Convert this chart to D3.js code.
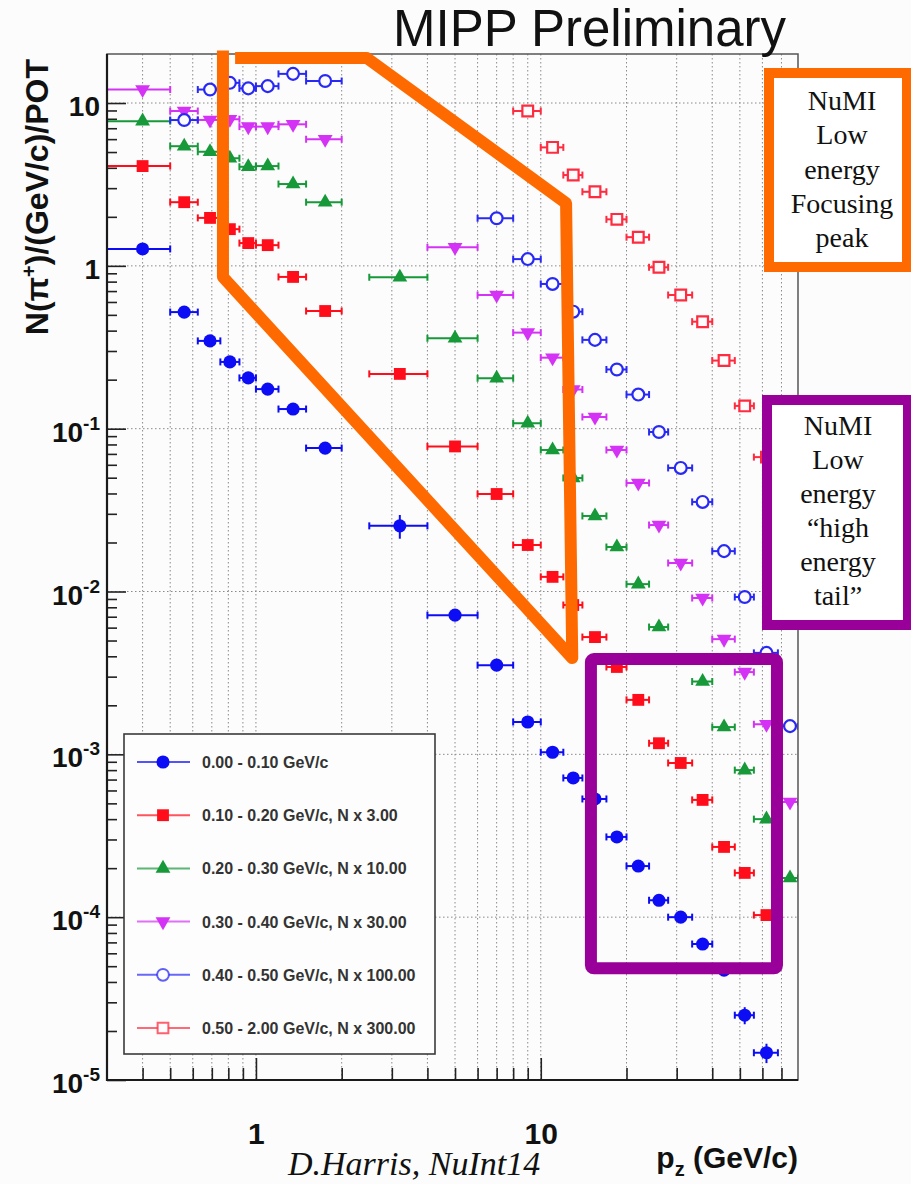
<!DOCTYPE html>
<html>
<head>
<meta charset="UTF-8" />
<title>MIPP Preliminary</title>
<script src="https://cdn.jsdelivr.net/npm/d3@7"></script>
<style>
    body { margin: 0; background: #fbfcfb; }
    svg { display: block; }
</style>
</head>
<body>
<svg id="chart" width="911" height="1184"></svg>
<script>
// p_z bins (GeV/c): low edge, high edge, point position
var pzLo  = [0.3, 0.5, 0.625, 0.75, 0.875, 1.0, 1.2, 1.5, 2.5, 4, 6, 8, 10, 12, 14, 17, 20, 24, 28, 34, 40, 48, 56, 68]
var pzHi  = [0.5, 0.625, 0.75, 0.875, 1.0, 1.2, 1.5, 2.0, 4, 6, 8, 10, 12, 14, 17, 20, 24, 28, 34, 40, 48, 56, 68, 80]
var pzMid = [0.4, 0.56, 0.69, 0.81, 0.94, 1.1, 1.35, 1.75, 3.2, 5, 7, 9, 11, 13, 15.5, 18.5, 22, 26, 31, 37, 44, 52, 62, 75]

// N(pi+)/(GeV/c)/POT per pt slice (already scaled as in the legend)
var pt000 = [1.27, 0.52, 0.346, 0.257, 0.205, 0.175, 0.132, 0.076, 0.0253, 0.00716, 0.00353, 0.00158,
             0.00103, 0.000716, 0.000532, 0.000311, 0.000206, 0.000127, 0.0001, 0.0000684, 0.0000473,
             0.000025, 0.0000147, null]
var pt010 = [4.1, 2.46, 1.97, 1.68, 1.38, 1.34, 0.855, 0.528, 0.217, 0.0778, 0.0397, 0.0193, 0.0123,
             0.00826, 0.00525, 0.00344, 0.00216, 0.00117, 0.000885, 0.000525, 0.00027, 0.000187, 0.000103, null]
var pt020 = [7.74, 5.43, 5.02, 4.58, 4.06, 4.1, 3.18, 2.46, 0.851, 0.359, 0.204, 0.108, 0.074, 0.0498,
             0.0291, 0.01876, 0.0111, 0.00605, null, 0.0028, 0.00147, 0.0008, 0.0004, 0.000174]
var pt030 = [12.1, 8.93, 7.87, 7.95, 7.16, 7.16, 7.4, 5.99, null, 1.30, 0.662, 0.389, 0.273, 0.174, 0.118,
             0.074, 0.0464, 0.0256, 0.01496, 0.00912, 0.0051, 0.0032, 0.00153, 0.00051]
var pt040 = [null, 7.86, 12.1, 13.3, 12.3, 12.7, 15.1, 13.65, null, null, 1.96, 1.10, 0.774, 0.523, 0.351,
             0.231, 0.162, 0.0954, 0.0574, 0.0355, 0.0177, 0.00925, 0.0042, 0.00149]
var pt050 = [null, null, null, null, null, null, null, null, null, null, null, 8.93, 5.34, 3.61, 2.85,
             1.93, 1.50, 0.98, 0.662, 0.454, 0.262, 0.138, 0.0669, null]
// visible vertical errors of the first slice
var pt000Err = [null, null, null, null, null, null, null, null, 0.0042, null, null, null, null, null, null,
                null, null, null, null, null, null, 0.000003, 0.000002, null]

var legendLabels = ["0.00 - 0.10 GeV/c", "0.10 - 0.20 GeV/c, N x 3.00", "0.20 - 0.30 GeV/c, N x 10.00",
                    "0.30 - 0.40 GeV/c, N x 30.00", "0.40 - 0.50 GeV/c, N x 100.00", "0.50 - 2.00 GeV/c, N x 300.00"]

var xMajorTicks = [1, 10]
var yMajorTicks = [1e-5, 1e-4, 1e-3, 1e-2, 1e-1, 1, 10]
var yTickLabels = [["10", "-5"], ["10", "-4"], ["10", "-3"], ["10", "-2"], ["10", "-1"], ["1", ""], ["10", ""]]

var focusText = ["NuMI", "Low", "energy", "Focusing", "peak"]
var tailText = ["NuMI", "Low", "energy", "\u201chigh", "energy", "tail\u201d"]

var sans = "'Liberation Sans', Arial, Helvetica, sans-serif"
var serif = "'Liberation Serif', 'Times New Roman', serif"

var L = 107, R = 798, T = 54, B = 1080
var svg = d3.select("#chart")
var xScale = d3.scaleLog().domain([0.3, 80]).range([L, R])
var yScale = d3.scaleLog().domain([1e-5, 20]).range([B, T])

var series = [
    {values: pt000, err: pt000Err, color: "#0c0cf5", type: d3.symbolCircle, size: 135, open: false, rot: 0},
    {values: pt010, color: "#ff0d1a", type: d3.symbolSquare, size: 140, open: false, rot: 0},
    {values: pt020, color: "#17993a", type: d3.symbolTriangle, size: 95, open: false, rot: 0},
    {values: pt030, color: "#d433f5", type: d3.symbolTriangle, size: 95, open: false, rot: 180},
    {values: pt040, color: "#2929f5", type: d3.symbolCircle, size: 110, open: true, rot: 0},
    {values: pt050, color: "#ff2b40", type: d3.symbolSquare, size: 115, open: true, rot: 0}
]

svg.append("rect").attr("width", 911).attr("height", 1184).attr("fill", "#fbfcfb")

// grid
var xGrid = xScale.ticks().filter(d => d > 0.3 && d < 80)
var xMinor = xGrid.filter(d => xMajorTicks.indexOf(d) < 0)
var yMinor = yScale.ticks().filter(d => d > 1e-5 && d < 20 && yMajorTicks.indexOf(d) < 0)

svg.append("g").selectAll("line")
    .data(xGrid)
    .enter()
    .append("line")
    .attr("x1", d => xScale(d)).attr("x2", d => xScale(d))
    .attr("y1", T).attr("y2", B)
    .attr("stroke", "#8a8a8a").attr("stroke-width", 1).attr("stroke-dasharray", "1.5,2.5")

svg.append("g").selectAll("line")
    .data(yMajorTicks.filter(d => d > 1e-5))
    .enter()
    .append("line")
    .attr("x1", L).attr("x2", R)
    .attr("y1", d => yScale(d)).attr("y2", d => yScale(d))
    .attr("stroke", "#8a8a8a").attr("stroke-width", 1).attr("stroke-dasharray", "1.5,2.5")

// axes
var xAxisMinor = d3.axisBottom(xScale).tickValues(xMinor).tickSize(-12).tickSizeOuter(0).tickFormat("")
var xAxisMajor = d3.axisBottom(xScale).tickValues(xMajorTicks).tickSize(-22).tickSizeOuter(0)
    .tickPadding(43).tickFormat(d => d)
svg.append("g").attr("transform", "translate(0," + B + ")").call(xAxisMinor)
var xg = svg.append("g").attr("transform", "translate(0," + B + ")").call(xAxisMajor)
xg.selectAll("text").style("font-family", sans).style("font-size", "30px").style("font-weight", "bold").attr("fill", "#111")

var yAxisMinor = d3.axisLeft(yScale).tickValues(yMinor).tickSize(-10).tickSizeOuter(0).tickFormat("")
var yAxisMajor = d3.axisLeft(yScale).tickValues(yMajorTicks).tickSize(-19).tickSizeOuter(0).tickFormat("")
svg.append("g").attr("transform", "translate(" + L + ",0)").call(yAxisMinor)
svg.append("g").attr("transform", "translate(" + L + ",0)").call(yAxisMajor)
svg.selectAll(".domain").remove()
svg.selectAll(".tick line").attr("stroke", "#222").attr("stroke-width", 1.6)

var yLab = svg.append("g").selectAll("text")
    .data(yMajorTicks)
    .enter()
    .append("text")
    .attr("x", 100)
    .attr("y", d => yScale(d) + 13)
    .attr("text-anchor", "end")
    .style("font-family", sans).style("font-size", "28px").style("font-weight", "bold")
    .attr("fill", "#111")
yLab.append("tspan").text((d, i) => yTickLabels[i][0])
yLab.append("tspan").attr("dy", -12).style("font-size", "19px").text((d, i) => yTickLabels[i][1])

// data
svg.append("clipPath").attr("id", "plotClip")
    .append("rect").attr("x", L).attr("y", T).attr("width", R - L).attr("height", B - T)
var plot = svg.append("g").attr("clip-path", "url(#plotClip)")

series.forEach(function(s) {
    var pts = s.values.map((v, i) => ({i: i, v: v})).filter(d => d.v != null)
    var g = plot.append("g")
    g.selectAll("line.xe")
        .data(pts).enter().append("line")
        .attr("x1", d => xScale(pzLo[d.i])).attr("x2", d => xScale(pzHi[d.i]))
        .attr("y1", d => yScale(d.v)).attr("y2", d => yScale(d.v))
        .attr("stroke", s.color).attr("stroke-width", 2)
    ;[pzLo, pzHi].forEach(function(edge) {
        g.selectAll(null)
            .data(pts).enter().append("line")
            .attr("x1", d => xScale(edge[d.i])).attr("x2", d => xScale(edge[d.i]))
            .attr("y1", d => yScale(d.v) - 3.5).attr("y2", d => yScale(d.v) + 3.5)
            .attr("stroke", s.color).attr("stroke-width", 2)
    })
    if (s.err) {
        g.selectAll(null)
            .data(pts.filter(d => s.err[d.i] != null)).enter().append("line")
            .attr("x1", d => xScale(pzMid[d.i])).attr("x2", d => xScale(pzMid[d.i]))
            .attr("y1", d => yScale(d.v - s.err[d.i])).attr("y2", d => yScale(d.v + s.err[d.i]))
            .attr("stroke", s.color).attr("stroke-width", 2)
    }
    g.selectAll("path")
        .data(pts).enter().append("path")
        .attr("d", d3.symbol().type(s.type).size(s.size))
        .attr("transform", d => "translate(" + xScale(pzMid[d.i]) + "," + yScale(d.v) + ") rotate(" + s.rot + ")")
        .attr("fill", s.open ? "#fbfcfb" : s.color)
        .attr("stroke", s.color)
        .attr("stroke-width", s.open ? 2.2 : 0)
})

// frame
svg.append("rect").attr("x", L).attr("y", T).attr("width", R - L).attr("height", B - T)
    .attr("fill", "none").attr("stroke", "#555").attr("stroke-width", 1.5)
svg.append("path").attr("d", "M" + L + "," + T + "V" + B + "H" + R)
    .attr("fill", "none").attr("stroke", "#1a1a1a").attr("stroke-width", 2.2)

// legend
var lg = svg.append("g")
lg.append("rect").attr("x", 124).attr("y", 734).attr("width", 311).attr("height", 320)
    .attr("fill", "#fcfdfc").attr("stroke", "#3a3a3a").attr("stroke-width", 1.6)
series.forEach(function(s, i) {
    var ly = 762 + i * 53.2
    lg.append("line").attr("x1", 137).attr("x2", 190).attr("y1", ly).attr("y2", ly)
        .attr("stroke", s.color).attr("stroke-opacity", 0.7).attr("stroke-width", 2)
    lg.append("path")
        .attr("d", d3.symbol().type(s.type).size(s.size))
        .attr("transform", "translate(163," + ly + ") rotate(" + s.rot + ")")
        .attr("fill", s.open ? "#fcfdfc" : s.color)
        .attr("stroke", s.color).attr("stroke-opacity", 0.75)
        .attr("stroke-width", s.open ? 2 : 0)
    lg.append("text").attr("x", 202).attr("y", ly + 6)
        .style("font-family", sans).style("font-size", "16px").style("font-weight", "bold")
        .attr("fill", "#333").text(legendLabels[i])
})

// titles
svg.append("text").attr("x", 393).attr("y", 46)
    .style("font-family", sans).style("font-size", "51px").attr("fill", "#111")
    .text("MIPP Preliminary")

var yt = svg.append("text")
    .attr("transform", "translate(48,59) rotate(-90)")
    .attr("text-anchor", "end")
    .style("font-family", sans).style("font-size", "32px").style("font-weight", "bold").attr("fill", "#111")
yt.append("tspan").text("N(\u03c0")
yt.append("tspan").attr("dy", -12).style("font-size", "20px").text("+")
yt.append("tspan").attr("dy", 12).text(")/(GeV/c)/POT")

var xt = svg.append("text").attr("x", R).attr("y", 1168).attr("text-anchor", "end")
    .style("font-family", sans).style("font-size", "30px").style("font-weight", "bold").attr("fill", "#111")
xt.append("tspan").text("p")
xt.append("tspan").attr("dy", 8).style("font-size", "20px").text("z")
xt.append("tspan").attr("dy", -8).text(" (GeV/c)")

svg.append("text").attr("x", 288).attr("y", 1175)
    .style("font-family", serif).style("font-size", "34px").style("font-style", "italic").attr("fill", "#111")
    .text("D.Harris, NuInt14")

// annotations drawn in data coordinates
var focusOutline = [[0.845, 18.9], [2.45, 18.9], [12.27, 2.43], [12.9, 0.0039], [0.766, 0.854], [0.766, 21]]
var tailBox = {x0: 15.0, x1: 67.5, y0: 4.85e-5, y1: 3.85e-3}

var outline = d3.line().x(d => xScale(d[0])).y(d => yScale(d[1]))
svg.append("path").attr("d", outline(focusOutline))
    .attr("fill", "none").attr("stroke", "#ff6a00").attr("stroke-width", 12)
    .attr("stroke-linejoin", "round").attr("stroke-linecap", "butt")

svg.append("rect")
    .attr("x", xScale(tailBox.x0)).attr("y", yScale(tailBox.y1))
    .attr("width", xScale(tailBox.x1) - xScale(tailBox.x0))
    .attr("height", yScale(tailBox.y0) - yScale(tailBox.y1))
    .attr("rx", 3)
    .attr("fill", "none").attr("stroke", "#990099").attr("stroke-width", 12)

// side boxes
svg.append("rect").attr("x", 769).attr("y", 73).attr("width", 138).attr("height", 194)
    .attr("fill", "#ffffff").attr("stroke", "#ff6a00").attr("stroke-width", 10)
svg.append("g").selectAll("text")
    .data(focusText).enter().append("text")
    .attr("x", 842).attr("y", (d, i) => 110 + i * 34.3)
    .attr("text-anchor", "middle")
    .style("font-family", serif).style("font-size", "28px").attr("fill", "#111")
    .text(d => d)

svg.append("rect").attr("x", 767).attr("y", 400).attr("width", 141).attr("height", 225)
    .attr("fill", "#ffffff").attr("stroke", "#990099").attr("stroke-width", 10)
svg.append("g").selectAll("text")
    .data(tailText).enter().append("text")
    .attr("x", 838).attr("y", (d, i) => 435 + i * 34)
    .attr("text-anchor", "middle")
    .style("font-family", serif).style("font-size", "28px").attr("fill", "#111")
    .text(d => d)
</script>
</body>
</html>
